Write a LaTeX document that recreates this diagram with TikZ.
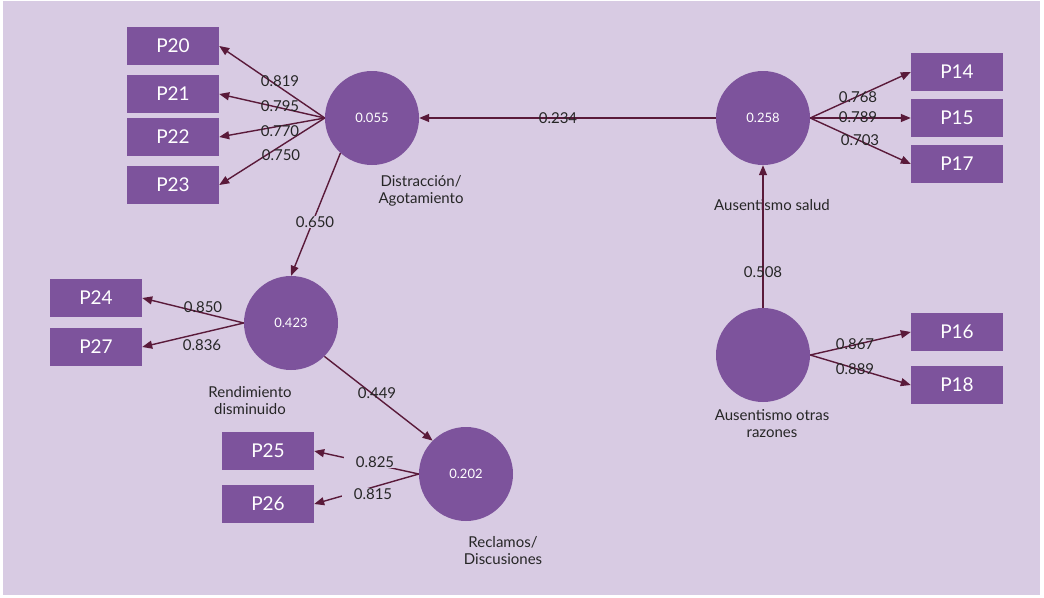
\documentclass[tikz,border=0pt]{standalone}
\usepackage{fontspec}
\setmainfont{Lato}
\usetikzlibrary{arrows.meta}
\definecolor{bgviolet}{HTML}{D8CBE3}
\definecolor{nodeviolet}{HTML}{7D539C}
\definecolor{arrowwine}{HTML}{5A1A3A}
\definecolor{textgray}{HTML}{262626}

\begin{document}
\begin{tikzpicture}[x=1pt, y=-1pt,
  latent/.style={circle, fill=nodeviolet, minimum size=94pt, inner sep=0pt, text=white, font=\fontsize{13}{15}\selectfont},
  indicator/.style={rectangle, fill=nodeviolet, minimum width=92pt, minimum height=38pt, inner sep=0pt, text=white, font=\fontsize{19}{22}\selectfont},
  coef/.style={text=textgray, font=\fontsize{15}{17}\selectfont, inner sep=1pt},
  cname/.style={text=textgray, align=center, font=\fontsize{15}{17}\selectfont},
  link/.style={draw=arrowwine, line width=1.4pt, -{Triangle[length=10pt, width=8pt]}}]
  \fill[white] (0,0) rectangle (1044,597);
  \fill[bgviolet] (3,1) rectangle (1040,595);

  % latent variables
  \node[latent] (dist) at (372,118) {0.055};
  \node[latent] (rend) at (291,323) {0.423};
  \node[latent] (recl) at (466,474) {0.202};
  \node[latent] (salud) at (763,118) {0.258};
  \node[latent] (otras) at (763,355) {};

  \node[cname] (distname) at (421,191) {Distracción/\\Agotamiento};
  \node[cname] (rendname) at (250,401) {Rendimiento\\disminuido};
  \node[cname] (reclname) at (503,551) {Reclamos/\\Discusiones};
  \node[cname] (saludname) at (772,205) {Ausentismo salud};
  \node[cname] (otrasname) at (772,424) {Ausentismo otras\\razones};

  % indicators
  \node[indicator] (p20) at (173,46) {P20};
  \node[indicator] (p21) at (173,94) {P21};
  \node[indicator] (p22) at (173,137) {P22};
  \node[indicator] (p23) at (173,185) {P23};
  \node[indicator] (p24) at (96,298) {P24};
  \node[indicator] (p27) at (96,347) {P27};
  \node[indicator] (p25) at (268,451) {P25};
  \node[indicator] (p26) at (268,504) {P26};
  \node[indicator] (p14) at (957,72) {P14};
  \node[indicator] (p15) at (957,118) {P15};
  \node[indicator] (p17) at (957,164) {P17};
  \node[indicator] (p16) at (957,332) {P16};
  \node[indicator] (p18) at (957,385) {P18};

  % loadings
  \foreach \p in {p20,p21,p22,p23}
    \draw[link] (dist.west) -- (\p.east);
  \foreach \p in {p24,p27}
    \draw[link] (rend.west) -- (\p.east);
  \foreach \p in {p25,p26}
    \draw[link] (recl.west) -- (\p.east);
  \foreach \p in {p14,p15,p17}
    \draw[link] (salud.east) -- (\p.west);
  \foreach \p in {p16,p18}
    \draw[link] (otras.east) -- (\p.west);

  % structural paths
  \draw[link] (salud.west) -- (dist.east);
  \draw[link] (otras.north) -- (salud.south);
  \draw[link] (dist.228) -- (rend.north);
  \draw[link] (rend.-45) -- (recl.135);

  \node[coef] (l20) at (280,81) {0.819};
  \node[coef] (l21) at (280,106) {0.795};
  \node[coef] (l22) at (280,131) {0.770};
  \node[coef] (l23) at (281,155) {0.750};
  \node[coef] (l24) at (203,307) {0.850};
  \node[coef] (l27) at (202,345) {0.836};
  \node[coef, fill=bgviolet, inner xsep=12pt] (l25) at (375,462) {0.825};
  \node[coef, fill=bgviolet, inner xsep=12pt] (l26) at (373,494) {0.815};
  \node[coef] (l14) at (858,97) {0.768};
  \node[coef] (l15) at (858,117) {0.789};
  \node[coef] (l17) at (860,140) {0.703};
  \node[coef] (l16) at (855,344) {0.867};
  \node[coef] (l18) at (855,369) {0.889};
  \node[coef, fill=bgviolet] (bdist) at (315,222) {0.650};
  \node[coef] (brecl) at (377,393) {0.449};
  \node[coef] (bsalud) at (558,118) {0.234};
  \node[coef] (botras) at (763,272) {0.508};
\end{tikzpicture}
\end{document}
